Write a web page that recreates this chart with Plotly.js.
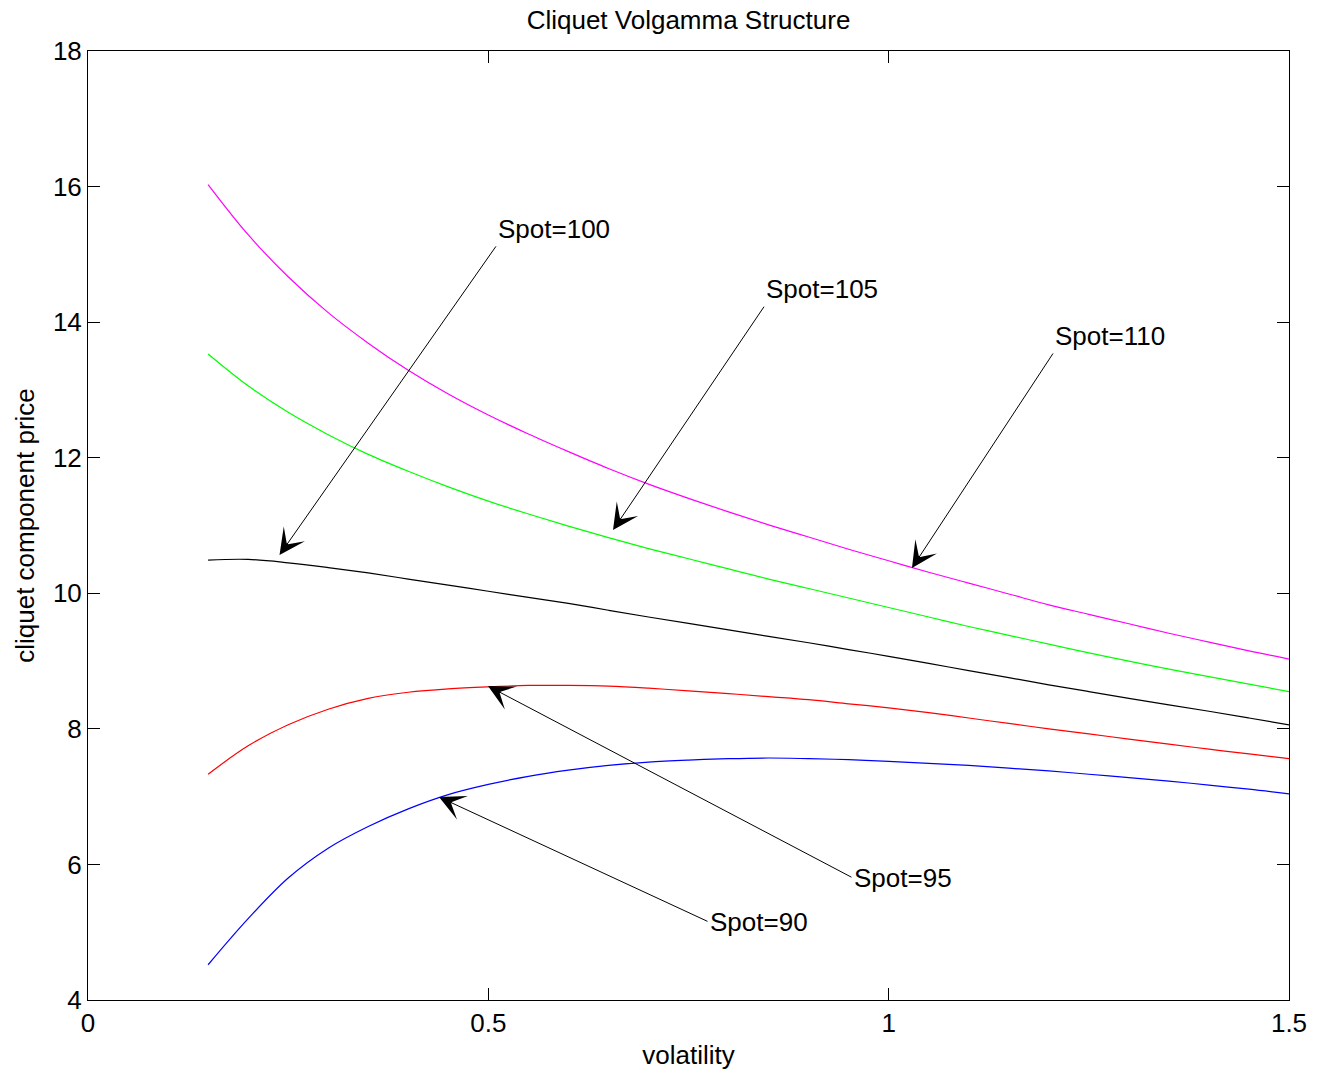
<!DOCTYPE html>
<html>
<head>
<meta charset="utf-8">
<script src="https://cdn.plot.ly/plotly-3.0.1.min.js"></script>
<style>
  html, body { margin: 0; padding: 0; background: #ffffff; }
  #chart { width: 1325px; height: 1076px; }
</style>
</head>
<body>
<div id="chart"></div>
<script>
// volatility grid (x)
const volatility = [0.15, 0.2, 0.25, 0.3, 0.35, 0.4, 0.45, 0.5, 0.55, 0.6, 0.65, 0.7, 0.75, 0.8, 0.85, 0.9, 0.95, 1.0, 1.05, 1.1, 1.15, 1.2, 1.25, 1.3, 1.35, 1.4, 1.45, 1.5];

// cliquet component price per spot level
const spot90  = [4.52, 5.20, 5.80, 6.24, 6.56, 6.82, 7.03, 7.18, 7.30, 7.39, 7.46, 7.51, 7.54, 7.56, 7.57, 7.56, 7.545, 7.52, 7.49, 7.46, 7.42, 7.38, 7.33, 7.28, 7.23, 7.17, 7.11, 7.04];
const spot95  = [7.33, 7.75, 8.06, 8.29, 8.45, 8.54, 8.59, 8.62, 8.64, 8.64, 8.63, 8.60, 8.56, 8.52, 8.475, 8.43, 8.37, 8.31, 8.24, 8.16, 8.08, 8.00, 7.925, 7.85, 7.775, 7.70, 7.63, 7.56];
const spot100 = [10.49, 10.50, 10.45, 10.38, 10.30, 10.21, 10.12, 10.03, 9.94, 9.85, 9.75, 9.65, 9.555, 9.46, 9.365, 9.27, 9.17, 9.07, 8.965, 8.86, 8.755, 8.65, 8.55, 8.45, 8.355, 8.26, 8.16, 8.06];
const spot105 = [13.53, 13.06, 12.67, 12.34, 12.05, 11.80, 11.57, 11.36, 11.17, 10.99, 10.82, 10.66, 10.51, 10.36, 10.21, 10.07, 9.93, 9.79, 9.65, 9.51, 9.38, 9.25, 9.12, 9.00, 8.88, 8.77, 8.66, 8.55];
const spot110 = [16.03, 15.29, 14.67, 14.14, 13.69, 13.29, 12.94, 12.63, 12.35, 12.09, 11.84, 11.61, 11.40, 11.20, 11.01, 10.83, 10.65, 10.48, 10.31, 10.15, 9.99, 9.83, 9.69, 9.55, 9.41, 9.28, 9.15, 9.03];

const seriesNames = ['Spot=90', 'Spot=95', 'Spot=100', 'Spot=105', 'Spot=110'];
const seriesValues = [spot90, spot95, spot100, spot105, spot110];
const seriesColors = ['#0000ff', '#ff0000', '#000000', '#00ff00', '#ff00ff'];

// annotation arrows: tip (on curve) and tail (at label), data coordinates
const arrowTipX  = [0.4384, 0.4996, 0.2392, 0.6557, 1.0291];
const arrowTipY  = [6.995, 8.632, 10.565, 10.933, 10.373];
const arrowTailX = [0.7756, 0.9554, 0.5108, 0.8456, 1.2065];
const arrowTailY = [5.15, 5.80, 15.14, 14.25, 13.56];
const labelYAnchor = ['middle', 'middle', 'bottom', 'bottom', 'bottom'];

const FONT = 'Liberation Sans, Arial, Helvetica, sans-serif';

const traces = seriesValues.map((vals, i) => ({
  type: 'scatter',
  mode: 'lines',
  x: volatility,
  y: vals,
  name: seriesNames[i],
  line: { color: seriesColors[i], width: 1.2, shape: 'spline', smoothing: 1 },
  hoverinfo: 'skip'
}));

const annotations = [];
seriesNames.forEach((name, i) => {
  annotations.push({
    xref: 'x', yref: 'y', axref: 'x', ayref: 'y',
    x: arrowTipX[i], y: arrowTipY[i],
    ax: arrowTailX[i], ay: arrowTailY[i],
    text: '',
    showarrow: true,
    arrowhead: 3,
    arrowsize: 4.3,
    arrowwidth: 1,
    arrowcolor: '#000000',
    standoff: 0,
    startstandoff: 0
  });
  annotations.push({
    xref: 'x', yref: 'y',
    x: arrowTailX[i], y: arrowTailY[i],
    text: name,
    showarrow: false,
    xanchor: 'left',
    yanchor: labelYAnchor[i],
    font: { family: FONT, size: 26, color: '#000000' },
    borderpad: 0
  });
});

const axisCommon = {
  showgrid: false,
  zeroline: false,
  showline: true,
  linecolor: '#000000',
  linewidth: 1,
  mirror: 'ticks',
  ticks: 'inside',
  ticklen: 12,
  tickwidth: 1,
  tickcolor: '#000000',
  tickfont: { family: FONT, size: 26, color: '#000000' }
};

const layout = {
  width: 1325,
  height: 1076,
  paper_bgcolor: '#ffffff',
  plot_bgcolor: '#ffffff',
  showlegend: false,
  margin: { l: 88, r: 36, t: 51, b: 76 },
  title: {
    text: 'Cliquet Volgamma Structure',
    font: { family: FONT, size: 26, color: '#000000' },
    xref: 'paper', x: 0.5, xanchor: 'center',
    yref: 'container', y: 1 - 20 / 1076, yanchor: 'middle'
  },
  xaxis: Object.assign({}, axisCommon, {
    range: [0, 1.5],
    tickmode: 'array',
    tickvals: [0, 0.5, 1, 1.5],
    ticktext: ['0', '0.5', '1', '1.5'],
    title: { text: 'volatility', font: { family: FONT, size: 26, color: '#000000' }, standoff: 8 }
  }),
  yaxis: Object.assign({}, axisCommon, {
    range: [4, 18],
    tickmode: 'array',
    tickvals: [4, 6, 8, 10, 12, 14, 16, 18],
    ticktext: ['4', '6', '8', '10', '12', '14', '16', '18'],
    title: { text: 'cliquet component price', font: { family: FONT, size: 26, color: '#000000' }, standoff: 10 }
  }),
  annotations: annotations
};

Plotly.newPlot('chart', traces, layout, { displayModeBar: false, staticPlot: true });
</script>
</body>
</html>
